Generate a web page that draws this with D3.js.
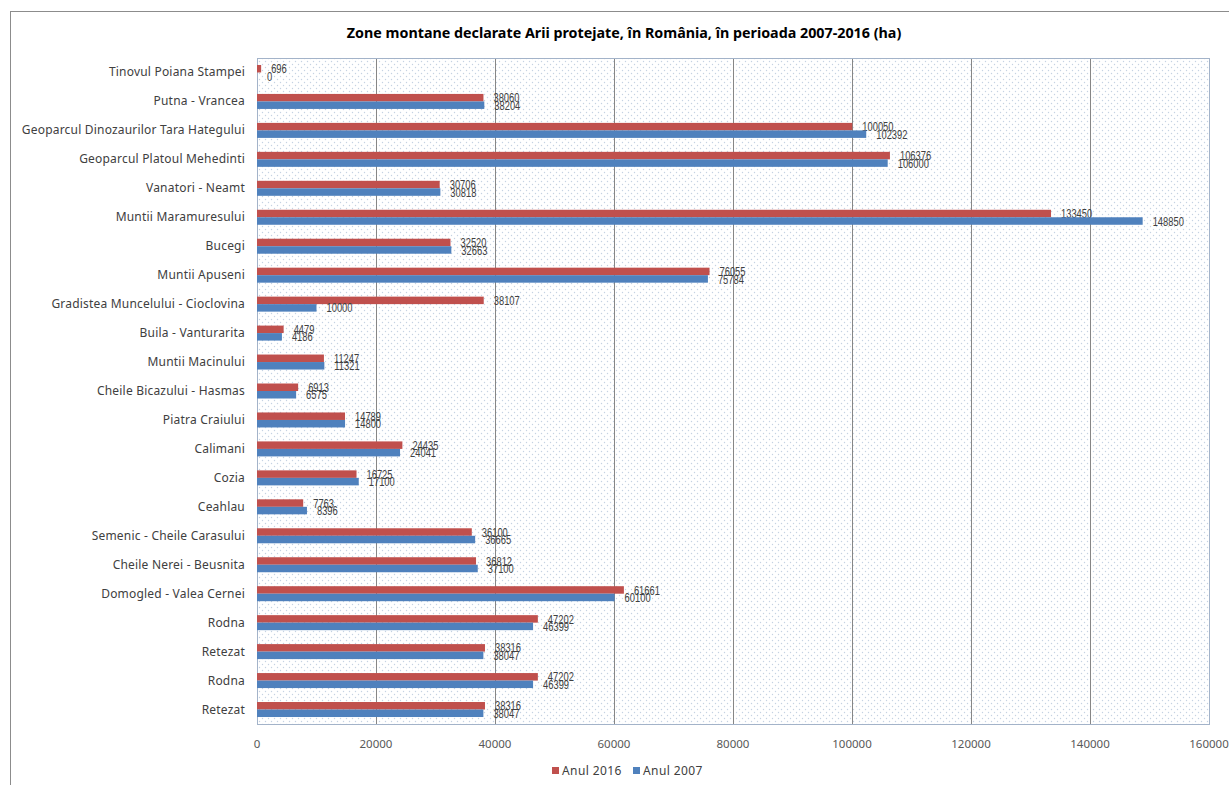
<!DOCTYPE html>
<html>
<head>
<meta charset="utf-8">
<script src="https://cdn.jsdelivr.net/npm/d3@7"></script>
<style>
	body { margin: 0; background: #fff; }
	svg { display: block; }
	.cat { font-family: "Noto Sans", "Open Sans", sans-serif; font-size: 12px; letter-spacing: 0.2px; fill: #404040; }
	.tick-label { font-family: "Noto Sans", "Open Sans", sans-serif; font-size: 11.5px; fill: #595959; }
	.val { font-family: "Liberation Sans", "DejaVu Sans", sans-serif; font-size: 13px; fill: #404040; }
	.title { font-family: "Noto Sans", "Open Sans", sans-serif; font-size: 14.3px; font-weight: bold; fill: #000; }
	.legend { font-family: "Noto Sans", "Open Sans", sans-serif; font-size: 12px; letter-spacing: 0.4px; fill: #404040; }
</style>
</head>
<body>
<svg id="chart" width="1229" height="785"></svg>
<script>
const categories = [
	'Tinovul Poiana Stampei',
	'Putna - Vrancea',
	'Geoparcul Dinozaurilor Tara Hategului',
	'Geoparcul Platoul Mehedinti',
	'Vanatori - Neamt',
	'Muntii Maramuresului',
	'Bucegi',
	'Muntii Apuseni',
	'Gradistea Muncelului - Cioclovina',
	'Buila - Vanturarita',
	'Muntii Macinului',
	'Cheile Bicazului - Hasmas',
	'Piatra Craiului',
	'Calimani',
	'Cozia',
	'Ceahlau',
	'Semenic - Cheile Carasului',
	'Cheile Nerei - Beusnita',
	'Domogled - Valea Cernei',
	'Rodna',
	'Retezat',
	'Rodna',
	'Retezat'
];

const anul2016 = [696, 38060, 100050, 106376, 30706, 133450, 32520, 76055, 38107, 4479, 11247, 6913, 14789, 24435, 16725, 7763, 36100, 36812, 61661, 47202, 38316, 47202, 38316];
const anul2007 = [0, 38204, 102392, 106000, 30818, 148850, 32663, 75784, 10000, 4186, 11321, 6575, 14800, 24041, 17100, 8396, 36665, 37100, 60100, 46399, 38047, 46399, 38047];

const xTicks = [0, 20000, 40000, 60000, 80000, 100000, 120000, 140000, 160000];

const series = [
	{ key: 'Anul 2016', values: anul2016, color: '#C0504D' },
	{ key: 'Anul 2007', values: anul2007, color: '#4F81BD' }
];

const svg = d3.select('#chart');

const plot = { left: 257, right: 1209, top: 58, bottom: 724 };

// chart frame
svg.append('rect')
	.attr('x', 10.5).attr('y', 11.5)
	.attr('width', 1240).attr('height', 800)
	.attr('fill', '#fff')
	.attr('stroke', '#8c8c8c');

svg.append('text')
	.attr('class', 'title')
	.attr('x', 624).attr('y', 38)
	.attr('text-anchor', 'middle')
	.text('Zone montane declarate Arii protejate, în România, în perioada 2007-2016 (ha)');

// dotted fill of the plot area
const defs = svg.append('defs');
const pat = defs.append('pattern')
	.attr('id', 'dots')
	.attr('patternUnits', 'userSpaceOnUse')
	.attr('width', 6).attr('height', 6);
pat.append('rect').attr('width', 6).attr('height', 6).attr('fill', '#fff');
pat.append('circle').attr('cx', 1.5).attr('cy', 1.5).attr('r', 0.7).attr('fill', '#c5d2e2');
pat.append('circle').attr('cx', 4.5).attr('cy', 4.5).attr('r', 0.7).attr('fill', '#c5d2e2');

svg.append('rect')
	.attr('x', plot.left).attr('y', plot.top)
	.attr('width', plot.right - plot.left).attr('height', plot.bottom - plot.top)
	.attr('fill', 'url(#dots)');

const x = d3.scaleLinear().domain([0, 160000]).range([plot.left, plot.right]);

const y = d3.scaleBand()
	.domain(d3.range(categories.length))
	.range([plot.top, plot.bottom]);

const ySub = d3.scaleBand()
	.domain(series.map(s => s.key))
	.range([0, y.bandwidth()])
	.paddingOuter(0.93);

// gridlines
svg.append('g')
	.selectAll('line')
	.data(xTicks.slice(1))
	.enter()
	.append('line')
	.attr('x1', d => Math.round(x(d)) + 0.5)
	.attr('x2', d => Math.round(x(d)) + 0.5)
	.attr('y1', plot.top)
	.attr('y2', plot.bottom)
	.attr('stroke', '#868686');

// plot border
svg.append('rect')
	.attr('x', plot.left + 0.5).attr('y', plot.top + 0.5)
	.attr('width', plot.right - plot.left).attr('height', plot.bottom - plot.top)
	.attr('fill', 'none')
	.attr('stroke', '#a3b3c9');

// bars and value labels (narrow labels, squeezed horizontally)
series.forEach(s => {
	const g = svg.append('g');
	g.selectAll('rect')
		.data(s.values)
		.enter()
		.append('rect')
		.attr('x', x(0))
		.attr('y', (d, i) => y(i) + ySub(s.key))
		.attr('width', d => x(d) - x(0))
		.attr('height', ySub.bandwidth())
		.attr('fill', s.color);

	g.selectAll('text')
		.data(s.values)
		.enter()
		.append('text')
		.attr('class', 'val')
		.attr('transform', (d, i) =>
			`translate(${x(d) + 10},${y(i) + ySub(s.key) + ySub.bandwidth() / 2 + 4.6}) scale(0.72,1)`)
		.text(d => d);
});

// category labels
svg.append('g')
	.selectAll('text')
	.data(categories)
	.enter()
	.append('text')
	.attr('class', 'cat')
	.attr('x', 245)
	.attr('y', (d, i) => y(i) + y.bandwidth() / 2 + 4)
	.attr('text-anchor', 'end')
	.text(d => d);

// x axis labels
svg.append('g')
	.selectAll('text')
	.data(xTicks)
	.enter()
	.append('text')
	.attr('class', 'tick-label')
	.attr('x', d => x(d))
	.attr('y', 748)
	.attr('text-anchor', 'middle')
	.text(d => d);

// legend
const legend = svg.append('g').attr('transform', 'translate(552,771)');
const lx = [0, 81];
series.forEach((s, i) => {
	legend.append('rect')
		.attr('x', lx[i]).attr('y', -4)
		.attr('width', 7).attr('height', 7)
		.attr('fill', s.color);
	legend.append('text')
		.attr('class', 'legend')
		.attr('x', lx[i] + 10).attr('y', 4)
		.text(s.key);
});
</script>
</body>
</html>
